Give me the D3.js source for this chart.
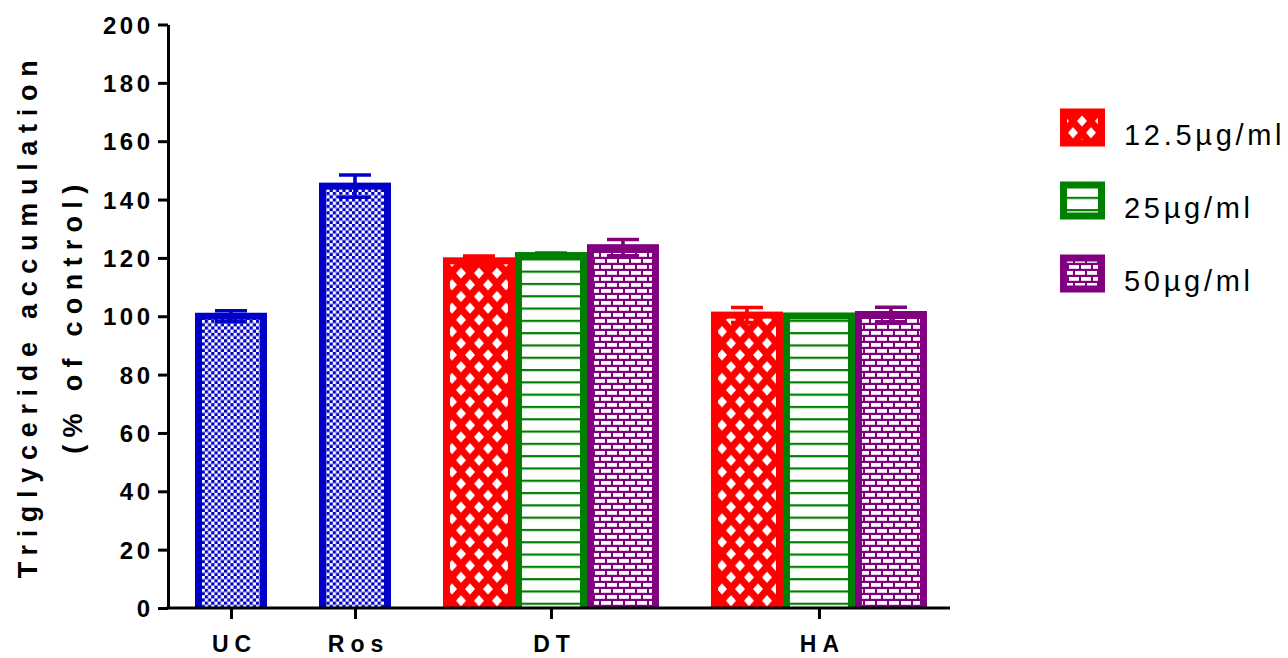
<!DOCTYPE html>
<html>
<head>
<meta charset="utf-8">
<script src="https://cdn.jsdelivr.net/npm/d3@7/dist/d3.min.js"></script>
<style>
  html, body { margin: 0; padding: 0; background: #fff; }
  svg { display: block; }
  text { font-family: "Liberation Sans", Arial, sans-serif; fill: #000; }
</style>
</head>
<body>
<svg id="chart" width="1288" height="658"></svg>
<script>
// Triglyceride accumulation (% of control), mean ± error
const categories = ["UC", "Ros", "DT", "HA"];
const seriesNames = ["12.5µg/ml", "25µg/ml", "50µg/ml"];

const ucMean = [100.0];
const ucErr = [1.9];
const rosMean = [144.6];
const rosErr = [3.8];
const dtMean = [119.0, 120.8, 123.5];
const dtErr = [1.6, 0.9, 2.8];
const haMean = [100.4, 100.1, 100.6];
const haErr = [2.6, 0.4, 2.5];

const yTicks = [0, 20, 40, 60, 80, 100, 120, 140, 160, 180, 200];

const blue = "#0000C8", red = "#FF0000", green = "#008000", purple = "#800080";
const seriesColors = [red, green, purple];
const seriesPatterns = ["pat-diamond", "pat-lines", "pat-brick"];

const svg = d3.select("#chart");
const defs = svg.append("defs");

// --- fill patterns ---
const cs = 3.2;
const checker = defs.append("pattern").attr("id", "pat-checker")
  .attr("patternUnits", "userSpaceOnUse").attr("width", 2 * cs).attr("height", 2 * cs);
checker.append("rect").attr("width", 2 * cs).attr("height", 2 * cs).attr("fill", "#fff");
checker.append("rect").attr("width", cs).attr("height", cs).attr("fill", blue);
checker.append("rect").attr("x", cs).attr("y", cs).attr("width", cs).attr("height", cs).attr("fill", blue);

const dw = 18, dh = 23.4, hx = 5, hy = 5.6;
const diamond = defs.append("pattern").attr("id", "pat-diamond")
  .attr("patternUnits", "userSpaceOnUse").attr("width", dw).attr("height", dh)
  .attr("x", 2).attr("y", 4);
diamond.append("rect").attr("width", dw).attr("height", dh).attr("fill", red);
[[dw / 2, dh / 2], [0, 0], [dw, 0], [0, dh], [dw, dh]].forEach(([cx, cy]) => {
  diamond.append("path")
    .attr("d", `M${cx - hx},${cy}L${cx},${cy - hy}L${cx + hx},${cy}L${cx},${cy + hy}Z`)
    .attr("fill", "#fff");
});

const lines = defs.append("pattern").attr("id", "pat-lines")
  .attr("patternUnits", "userSpaceOnUse").attr("width", 12).attr("height", 12.3);
lines.append("rect").attr("width", 12).attr("height", 12.3).attr("fill", "#fff");
lines.append("rect").attr("y", 0).attr("width", 12).attr("height", 2.2).attr("fill", green);

const brick = defs.append("pattern").attr("id", "pat-brick")
  .attr("patternUnits", "userSpaceOnUse").attr("width", 12).attr("height", 12);
brick.append("rect").attr("width", 12).attr("height", 12).attr("fill", purple);
brick.append("rect").attr("x", 1).attr("y", 1).attr("width", 10).attr("height", 3.8).attr("fill", "#fff");
brick.append("rect").attr("x", -5).attr("y", 7).attr("width", 10).attr("height", 3.8).attr("fill", "#fff");
brick.append("rect").attr("x", 7).attr("y", 7).attr("width", 10).attr("height", 3.8).attr("fill", "#fff");

// --- layout in bar-slot units ---
const leadGap = 0.375, groupGap = 0.722, tailGap = 0.32;
const groups = [
  { name: "UC", means: ucMean, errs: ucErr, colors: [blue], patterns: ["pat-checker"] },
  { name: "Ros", means: rosMean, errs: rosErr, colors: [blue], patterns: ["pat-checker"] },
  { name: "DT", means: dtMean, errs: dtErr, colors: seriesColors, patterns: seriesPatterns },
  { name: "HA", means: haMean, errs: haErr, colors: seriesColors, patterns: seriesPatterns }
];
let cursor = leadGap;
const bars = [];
groups.forEach((g, gi) => {
  g.start = cursor;
  g.means.forEach((m, i) => {
    bars.push({ slot: cursor + i, value: m, err: g.errs[i], color: g.colors[i], pattern: g.patterns[i] });
  });
  g.center = cursor + g.means.length / 2;
  cursor += g.means.length + (gi < groups.length - 1 ? groupGap : tailGap);
});
const totalSlots = cursor;

const x0 = 168, x1 = 950, yTop = 24.5, yBase = 608;
const x = d3.scaleLinear().domain([0, totalSlots]).range([x0, x1]);
const y = d3.scaleLinear().domain([0, 200]).range([yBase, yTop]);
const slotW = x(1) - x(0);
const bw = 7; // bar outline width

// --- bars ---
defs.append("clipPath").attr("id", "plot-clip")
  .append("rect").attr("x", x0).attr("y", 0).attr("width", x1 - x0).attr("height", yBase);

const barG = svg.append("g").attr("clip-path", "url(#plot-clip)");
barG.selectAll("rect.bar").data(bars).join("rect")
  .attr("class", "bar")
  .attr("x", d => x(d.slot) + bw / 2)
  .attr("y", d => y(d.value))
  .attr("width", slotW - bw)
  .attr("height", d => y(0) - y(d.value) + bw)
  .attr("fill", d => `url(#${d.pattern})`)
  .attr("stroke", d => d.color)
  .attr("stroke-width", bw);

// --- error bars ---
const capW = 32, ew = 3.6;
const errG = svg.append("g");
bars.forEach(d => {
  const cx = x(d.slot + 0.5);
  errG.append("line").attr("x1", cx).attr("x2", cx)
    .attr("y1", y(d.value + d.err)).attr("y2", y(d.value - d.err))
    .attr("stroke", d.color).attr("stroke-width", ew);
  [d.value + d.err, d.value - d.err].forEach(v => {
    errG.append("line").attr("x1", cx - capW / 2).attr("x2", cx + capW / 2)
      .attr("y1", y(v)).attr("y2", y(v))
      .attr("stroke", d.color).attr("stroke-width", ew);
  });
});

// --- axes ---
const yAxis = d3.axisLeft(y).tickValues(yTicks).tickSize(10).tickSizeOuter(0).tickPadding(8);
const yG = svg.append("g").attr("transform", `translate(${x0},0)`).call(yAxis);
yG.select(".domain").attr("stroke-width", 3).attr("stroke", "#000");
yG.selectAll(".tick line").attr("stroke-width", 3).attr("stroke", "#000");
yG.selectAll(".tick text")
  .attr("font-family", "Liberation Sans, Arial, sans-serif")
  .attr("font-size", 24).attr("font-weight", "bold")
  .attr("letter-spacing", 3.5).attr("dx", 3.5).attr("dy", "0.36em").attr("fill", "#000");

const xAxis = d3.axisBottom(x)
  .tickValues(groups.map(g => g.center))
  .tickFormat((d, i) => categories[i])
  .tickSize(11).tickSizeOuter(0).tickPadding(17);
const xG = svg.append("g").attr("transform", `translate(0,${yBase})`).call(xAxis);
xG.select(".domain").attr("stroke-width", 3).attr("stroke", "#000")
  .attr("d", `M${x0 - 1.5},0H${x1}`);
xG.selectAll(".tick line").attr("stroke-width", 3).attr("stroke", "#000");
xG.selectAll(".tick text")
  .attr("font-family", "Liberation Sans, Arial, sans-serif")
  .attr("font-size", 23).attr("font-weight", "bold")
  .attr("letter-spacing", 6).attr("dx", 3).attr("fill", "#000");

// --- y axis title ---
const title = svg.append("g").attr("transform", `translate(0,${(yTop + yBase) / 2 + 3}) rotate(-90)`);
title.append("text").attr("x", 0).attr("y", 37)
  .attr("text-anchor", "middle").attr("font-size", 27).attr("font-weight", "bold")
  .attr("letter-spacing", 7.7).attr("dx", 3.8)
  .text("Triglyceride accumulation");
title.append("text").attr("x", 0).attr("y", 82)
  .attr("text-anchor", "middle").attr("font-size", 27).attr("font-weight", "bold")
  .attr("letter-spacing", 7.3).attr("dx", 3.6)
  .text("(% of control)");

// --- legend ---
const legend = svg.append("g");
seriesNames.forEach((name, i) => {
  const top = 108.5 + i * 73;
  legend.append("rect")
    .attr("x", 1060 + bw / 2).attr("y", top + bw / 2)
    .attr("width", 45 - bw).attr("height", 38 - bw)
    .attr("fill", `url(#${seriesPatterns[i]})`)
    .attr("stroke", seriesColors[i]).attr("stroke-width", bw);
  legend.append("text").attr("x", 1124).attr("y", top + 36.5)
    .attr("font-size", 29).attr("letter-spacing", 3.7)
    .text(name);
});
</script>
</body>
</html>
